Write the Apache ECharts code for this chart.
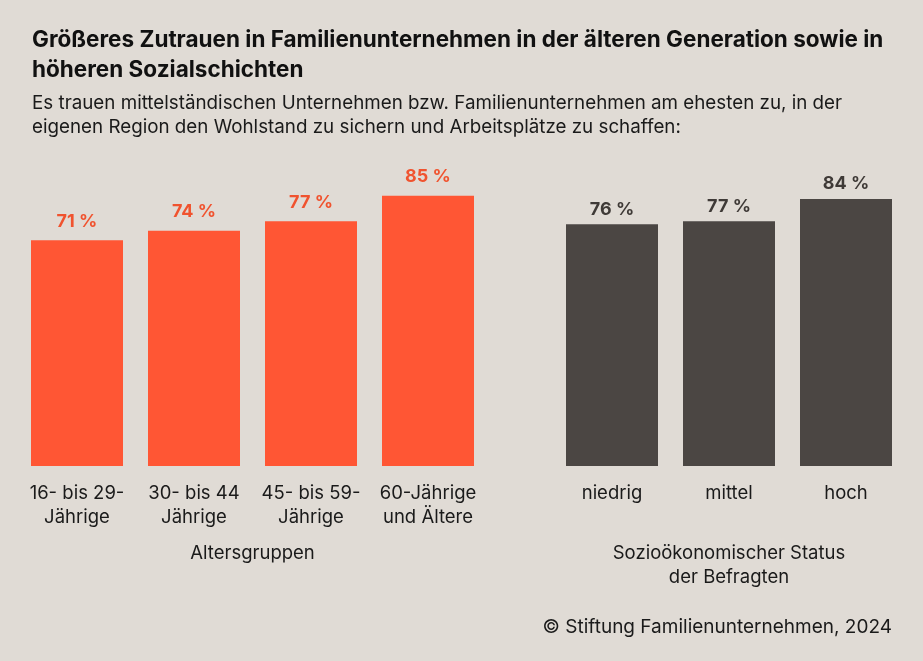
<!DOCTYPE html>
<html>
<head>
<meta charset="utf-8">
<style>html,body{margin:0;padding:0;background:#e0dbd5;}#c{width:923px;height:661px;}</style>
<script src="https://cdn.jsdelivr.net/npm/echarts@6/dist/echarts.min.js"></script>
</head>
<body>
<div id="c"></div>
<script>
const ageCategories = ['16- bis 29-\nJährige', '30- bis 44\nJährige', '45- bis 59-\nJährige', '60-Jährige\nund Ältere'];
const ageValues = [71, 74, 77, 85];
const statusCategories = ['niedrig', 'mittel', 'hoch'];
const statusValues = [76, 77, 84];

const FONT = 'Inter, Roboto, sans-serif';
const chart = echarts.init(document.getElementById('c'));
chart.setOption({
  backgroundColor: '#e0dbd5',
  textStyle: { fontFamily: FONT },
  title: [
    { text: 'Größeres Zutrauen in Familienunternehmen in der älteren Generation sowie in\nhöheren Sozialschichten',
      left: 32, top: 25, padding: 0, textStyle: { fontFamily: FONT, fontSize: 22.5, fontWeight: 'bold', color: '#111', lineHeight: 30 } },
    { text: 'Es trauen mittelständischen Unternehmen bzw. Familienunternehmen am ehesten zu, in der\neigenen Region den Wohlstand zu sichern und Arbeitsplätze zu schaffen:',
      left: 32, top: 91, padding: 0, textStyle: { fontFamily: FONT, fontSize: 18.8, fontWeight: 'normal', color: '#1a1a1a', lineHeight: 24 } },
    { text: '© Stiftung Familienunternehmen, 2024',
      right: 31, top: 617, padding: 0, textStyle: { fontFamily: FONT, fontSize: 19, fontWeight: 'normal', color: '#1a1a1a', lineHeight: 20 } }
  ],
  grid: [
    { left: 18.5, width: 468, top: 148, bottom: 195 },
    { left: 553.5, width: 351, top: 148, bottom: 195 }
  ],
  xAxis: [
    { type: 'category', gridIndex: 0, data: ageCategories,
      axisLine: { show: false }, axisTick: { show: false },
      axisLabel: { color: '#1a1a1a', fontSize: 18.5, lineHeight: 24, margin: 15, interval: 0, fontFamily: FONT },
      name: 'Altersgruppen', nameLocation: 'middle', nameGap: 75,
      nameTextStyle: { color: '#1a1a1a', fontSize: 18.5, lineHeight: 24, fontFamily: FONT, verticalAlign: 'top' } },
    { type: 'category', gridIndex: 1, data: statusCategories,
      axisLine: { show: false }, axisTick: { show: false },
      axisLabel: { color: '#1a1a1a', fontSize: 18.5, lineHeight: 24, margin: 15, interval: 0, fontFamily: FONT },
      name: 'Sozioökonomischer Status\nder Befragten', nameLocation: 'middle', nameGap: 75,
      nameTextStyle: { color: '#1a1a1a', fontSize: 18.5, lineHeight: 24, fontFamily: FONT, verticalAlign: 'top' } }
  ],
  yAxis: [
    { type: 'value', gridIndex: 0, min: 0, max: 100, show: false },
    { type: 'value', gridIndex: 1, min: 0, max: 100, show: false }
  ],
  series: [
    { type: 'bar', xAxisIndex: 0, yAxisIndex: 0, data: ageValues, barWidth: 92,
      itemStyle: { color: '#ff5634' },
      label: { show: true, position: 'top', distance: 10, formatter: '{c} %', color: '#f0532f', fontSize: 18, fontWeight: 'bold', fontFamily: FONT } },
    { type: 'bar', xAxisIndex: 1, yAxisIndex: 1, data: statusValues, barWidth: 92,
      itemStyle: { color: '#4b4643' },
      label: { show: true, position: 'top', distance: 6, formatter: '{c} %', color: '#3f3a37', fontSize: 18, fontWeight: 'bold', fontFamily: FONT } }
  ]
});
</script>
</body>
</html>
